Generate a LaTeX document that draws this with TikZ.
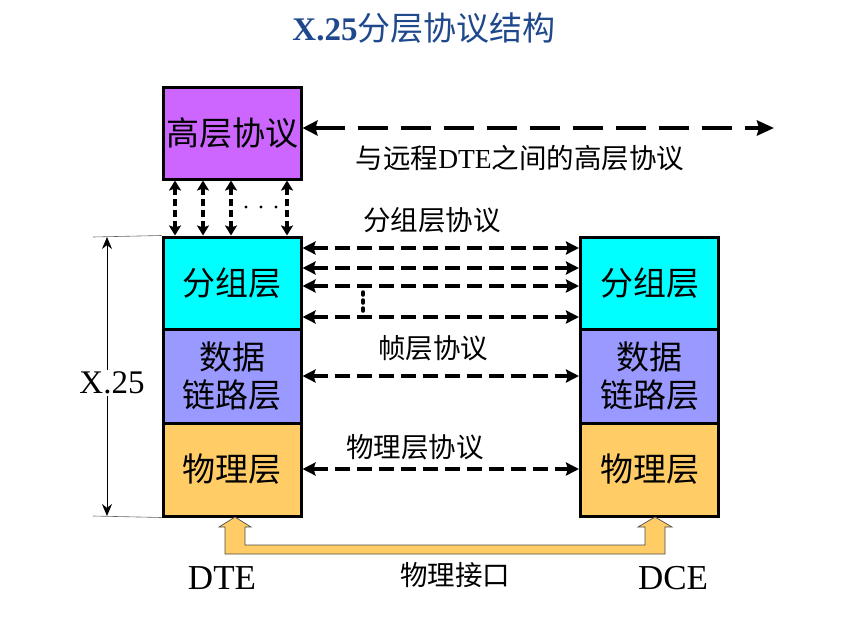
\documentclass[tikz,border=0pt]{standalone}
\usepackage{fontspec}
\setmainfont{Liberation Serif}
\newfontfamily\cjk{Noto Sans CJK SC}
\usetikzlibrary{arrows.meta,calc}
\definecolor{hlpurple}{RGB}{204,102,255}
\definecolor{pktcyan}{RGB}{0,255,255}
\definecolor{dllilac}{RGB}{153,153,255}
\definecolor{phyorange}{RGB}{255,204,102}
\definecolor{titleblue}{RGB}{31,73,140}
\begin{document}
\begin{tikzpicture}[x=1pt,y=-1pt,
  layer/.style={draw=black,line width=3pt,minimum width=138pt,inner sep=0pt,
    align=center,font=\fontsize{33}{38}\selectfont\cjk},
  hd/.style={Stealth[length=13pt,width=13pt,inset=2pt]},
  peer/.style={{Stealth[length=13pt,width=13pt,inset=2pt]}-{Stealth[length=13pt,width=13pt,inset=2pt]},
    line width=3.5pt,dash pattern=on 15pt off 7pt},
  longpeer/.style={{Stealth[length=15pt,width=15pt,inset=2pt]}-{Stealth[length=17pt,width=15pt,inset=2pt]},
    line width=3.8pt,dash pattern=on 30pt off 13pt},
  svc/.style={{Stealth[length=10pt,width=12pt,inset=2pt]}-{Stealth[length=10pt,width=12pt,inset=2pt]},
    line width=3.5pt,dash pattern=on 7pt off 4pt},
  lbl/.style={font=\fontsize{27.5}{32}\selectfont\cjk,inner sep=0pt},
  big/.style={font=\fontsize{35}{40}\selectfont,inner sep=0pt}]
\useasboundingbox (0,0) rectangle (854,619);

% title
\node[font=\fontsize{33}{38}\selectfont,text=titleblue,inner sep=0pt] (title) at (424,28)
  {\textbf{X.25}{\cjk 分层协议结构}};

% upper layer protocol
\node[layer,fill=hlpurple,minimum height=92pt] (hl) at (232,133) {高层协议};

% DTE stack
\node[layer,fill=pktcyan,minimum height=92pt] (lpk) at (232,283) {分组层};
\node[layer,fill=dllilac,minimum height=94pt] (ldl) at (232,376) {数据\\链路层};
\node[layer,fill=phyorange,minimum height=93pt] (lph) at (232,469.5) {物理层};

% DCE stack
\node[layer,fill=pktcyan,minimum height=92pt] (rpk) at (649.5,283) {分组层};
\node[layer,fill=dllilac,minimum height=94pt] (rdl) at (649.5,376) {数据\\链路层};
\node[layer,fill=phyorange,minimum height=93pt] (rph) at (649.5,469.5) {物理层};

% service access between upper layer and packet layer
\foreach \xx in {175,203,231,287}
  \draw[svc] (hl.south -| \xx,0) -- (lpk.north -| \xx,0);
\foreach \xx in {246,261,276}
  \fill (\xx,207) circle (1.6pt);

% end-to-end upper layer protocol
\coordinate (far) at (774,128);
\draw[longpeer] (hl.east |- 0,128) -- (far);
\node[lbl] (hltext) at (520,158) {与远程{\rmfamily DTE}之间的高层协议};

% packet layer peers
\node[lbl] (pktext) at (432,220) {分组层协议};
\foreach \yy in {248,268,286,317}
  \draw[peer] (lpk.east |- 0,\yy) -- (rpk.west |- 0,\yy);
\draw[line width=3.5pt,line cap=round,dash pattern=on 3pt off 5pt] (363,292) -- (363,313);

% frame layer peers
\node[lbl] (dltext) at (433,348) {帧层协议};
\draw[peer] (ldl.east |- 0,376) -- (rdl.west |- 0,376);

% physical layer peers
\node[lbl] (phtext) at (415,447) {物理层协议};
\draw[peer] (lph.east |- 0,469) -- (rph.west |- 0,469);

% X.25 extent
\draw[black!60,line width=0.6pt] (93,237) -- (lpk.north west);
\draw[black!60,line width=0.6pt] (93,516) -- (lph.south west);
\coordinate (dimtop) at (107,237);
\coordinate (dimbot) at (107,516);
\draw[line width=0.8pt,{Stealth[length=12pt,width=10pt]}-{Stealth[length=12pt,width=10pt]}] (dimtop) -- (dimbot);
\node[font=\fontsize{33}{38}\selectfont,fill=white,inner sep=2pt] (x25) at (112,383) {X.25};

% physical interface
\draw[fill=phyorange,draw=black!70,line width=0.7pt]
  (235,517) -- (251,527) -- (245,527) -- (245,545) -- (645,545) -- (645,527)
  -- (638,527) -- (655,517) -- (672,527) -- (665,527) -- (665,554)
  -- (225,554) -- (225,527) -- (219,527) -- cycle;
\node[big] (dte) at (222,578) {DTE};
\node[big] (dce) at (673,578) {DCE};
\node[lbl] (ifc) at (455,575) {物理接口};
\end{tikzpicture}
\end{document}
